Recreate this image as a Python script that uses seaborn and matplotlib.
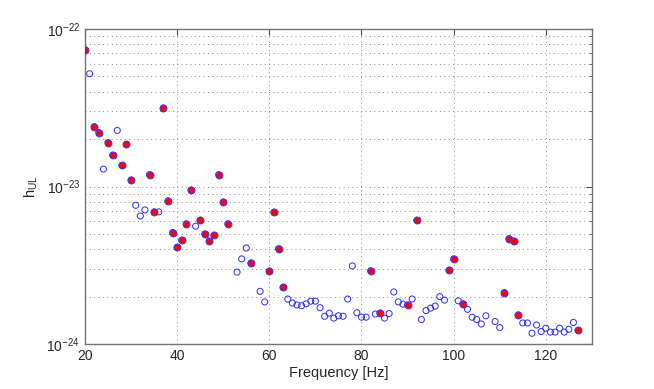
import numpy as np
import pandas as pd
import matplotlib
matplotlib.use('Agg')
import matplotlib.pyplot as plt
import seaborn as sns
from matplotlib.ticker import FixedLocator, LogLocator, NullFormatter


# upper limits per frequency bin (52, 57, 108 Hz have no value)
freq = [20, 21, 22, 23, 24, 25, 26, 27, 28, 29, 30, 31, 32, 33, 34, 35, 36, 37,
        38, 39, 40, 41, 42, 43, 44, 45, 46, 47, 48, 49, 50, 51, 53, 54, 55, 56,
        58, 59, 60, 61, 62, 63, 64, 65, 66, 67, 68, 69, 70, 71, 72, 73, 74, 75,
        76, 77, 78, 79, 80, 81, 82, 83, 84, 85, 86, 87, 88, 89, 90, 91, 92, 93,
        94, 95, 96, 97, 98, 99, 100, 101, 102, 103, 104, 105, 106, 107, 109,
        110, 111, 112, 113, 114, 115, 116, 117, 118, 119, 120, 121, 122, 123,
        124, 125, 126, 127]

h_ul = [7.4e-23, 5.2e-23, 2.4e-23, 2.2e-23, 1.29e-23, 1.9e-23, 1.58e-23,
        2.27e-23, 1.36e-23, 1.85e-23, 1.10e-23, 7.6e-24, 6.5e-24, 7.1e-24,
        1.19e-23, 6.9e-24, 6.9e-24, 3.15e-23, 8.1e-24, 5.1e-24, 4.1e-24,
        4.55e-24, 5.8e-24, 9.5e-24, 5.6e-24, 6.1e-24, 5.0e-24, 4.5e-24,
        4.9e-24, 1.19e-23, 7.97e-24, 5.8e-24, 2.86e-24, 3.47e-24, 4.07e-24,
        3.27e-24, 2.16e-24, 1.85e-24, 2.9e-24, 6.86e-24, 4.03e-24, 2.29e-24,
        1.93e-24, 1.82e-24, 1.77e-24, 1.75e-24, 1.8e-24, 1.87e-24, 1.87e-24,
        1.7e-24, 1.5e-24, 1.57e-24, 1.46e-24, 1.51e-24, 1.5e-24, 1.93e-24,
        3.13e-24, 1.58e-24, 1.48e-24, 1.48e-24, 2.92e-24, 1.55e-24, 1.57e-24,
        1.46e-24, 1.56e-24, 2.14e-24, 1.85e-24, 1.79e-24, 1.77e-24, 1.93e-24,
        6.1e-24, 1.43e-24, 1.63e-24, 1.69e-24, 1.74e-24, 2.0e-24, 1.9e-24,
        2.94e-24, 3.47e-24, 1.88e-24, 1.8e-24, 1.66e-24, 1.48e-24, 1.43e-24,
        1.34e-24, 1.51e-24, 1.39e-24, 1.27e-24, 2.12e-24, 4.67e-24, 4.49e-24,
        1.53e-24, 1.36e-24, 1.36e-24, 1.17e-24, 1.32e-24, 1.2e-24, 1.26e-24,
        1.19e-24, 1.19e-24, 1.26e-24, 1.19e-24, 1.24e-24, 1.37e-24, 1.22e-24]

# bins flagged (red markers)
freq_flag = [20, 22, 23, 25, 26, 28, 29, 30, 34, 35, 37, 38, 39, 40, 41, 42,
             43, 45, 46, 47, 48, 49, 50, 51, 56, 60, 61, 62, 63, 82, 84, 90,
             92, 99, 100, 102, 111, 112, 113, 114, 127]

y_major = [1e-24, 1e-23, 1e-22]

df = pd.DataFrame({'freq': freq, 'h': h_ul})
df['flag'] = df['freq'].isin(freq_flag)

sns.set_style('white')
plt.rcParams['font.family'] = ['Liberation Sans', 'DejaVu Sans']
plt.rcParams['mathtext.fontset'] = 'custom'
plt.rcParams['mathtext.rm'] = 'Liberation Sans'
plt.rcParams['mathtext.it'] = 'Liberation Sans'

fig = plt.figure(figsize=(6.54, 3.89), dpi=100)
ax = fig.add_axes([0.130, 0.1157, 0.775, 0.8097])

sns.scatterplot(data=df, x='freq', y='h', ax=ax, marker='o', s=19,
                facecolor='none', edgecolor='#2b2bff', linewidth=0.7, legend=False)
sns.scatterplot(data=df[df['flag']], x='freq', y='h', ax=ax, marker='o', s=25,
                color='red', edgecolor='#3b3bff', linewidth=0.7, legend=False,
                zorder=3)

ax.set_yscale('log')
ax.set_xlim(20, 130)
ax.set_ylim(1e-24, 1e-22)
ax.set_xticks([20, 40, 60, 80, 100, 120])
ax.yaxis.set_major_locator(FixedLocator(y_major))
ax.yaxis.set_major_formatter(matplotlib.ticker.LogFormatterMathtext())
ax.yaxis.set_minor_locator(LogLocator(base=10, subs=np.arange(2, 10), numticks=20))
ax.yaxis.set_minor_formatter(NullFormatter())

grid_kw = dict(linestyle=(0, (1, 3.5)), color='0.55', linewidth=0.7)
ax.grid(True, which='major', axis='x', **grid_kw)
ax.grid(True, which='both', axis='y', **grid_kw)

ax.tick_params(which='both', direction='in', top=True, right=True,
               labelsize=10, color='0.3')
ax.tick_params(which='major', length=4)
ax.tick_params(which='minor', length=2)
for sp in ax.spines.values():
    sp.set_color('0.45')
    sp.set_linewidth(1.0)

ax.set_xlabel('Frequency [Hz]', fontsize=10.5, labelpad=2)
ax.set_ylabel(r'h$_{\mathrm{UL}}$', fontsize=10.5, labelpad=5)

fig.savefig('out.png', dpi=100)
